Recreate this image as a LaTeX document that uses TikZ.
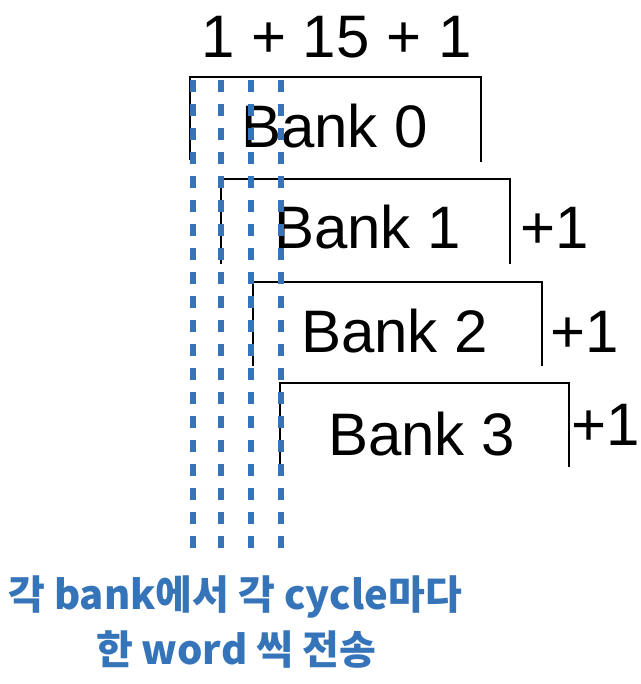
\documentclass[tikz,border=0pt]{standalone}
\usepackage{fontspec}
\setmainfont{Liberation Sans}
\newfontfamily\kofont{Noto Sans CJK KR}
\usepackage{tikz}
\definecolor{wordblue}{RGB}{53,116,185}

\begin{document}
\begin{tikzpicture}[x=1pt, y=-1pt]
  \tikzset{
    bankbox/.style={line width=2pt, black},
    cyc/.style={line width=6pt, wordblue, dash pattern=on 12pt off 12pt},
    big/.style={inner sep=0pt, font=\fontsize{60}{62}\selectfont},
    note/.style={inner sep=0pt, text=wordblue, font=\kofont\bfseries\fontsize{40}{44}\selectfont}
  }
  \useasboundingbox (0,0) rectangle (640,684);

  % brackets of the banks
  \draw[bankbox] (190,160) -- (190,77) -- (481,77) -- (481,162);
  \draw[bankbox] (221,264) -- (221,179) -- (510,179) -- (510,264);
  \draw[bankbox] (253,366) -- (253,282) -- (542,282) -- (542,366);
  \draw[bankbox] (280,467) -- (280,383) -- (569,383) -- (569,467);

  \node[big, anchor=base west] (len) at (201,58) {1 + 15 + 1};

  \node[big, anchor=base west] (bank0) at (241,148) {Bank 0};
  \node[big, anchor=base west] (bank1) at (274,249) {Bank 1};
  \node[big, anchor=base west] (bank2) at (301,352) {Bank 2};
  \node[big, anchor=base west] (bank3) at (328,455) {Bank 3};

  \node[big, anchor=base west] (plus1) at (520,248) {+1};
  \node[big, anchor=base west] (plus2) at (550,352) {+1};
  \node[big, anchor=base west] (plus3) at (571,445) {+1};

  % one word per cycle
  \draw[cyc] (193,80) -- (193,548);
  \draw[cyc] (221,80) -- (221,548);
  \draw[cyc] (251,80) -- (251,548);
  \draw[cyc] (281,80) -- (281,548);

  \node[note, anchor=base] (note1) at (235,609) {각 bank에서 각 cycle마다};
  \node[note, anchor=base] (note2) at (236,664) {한 word 씩 전송};
\end{tikzpicture}
\end{document}
